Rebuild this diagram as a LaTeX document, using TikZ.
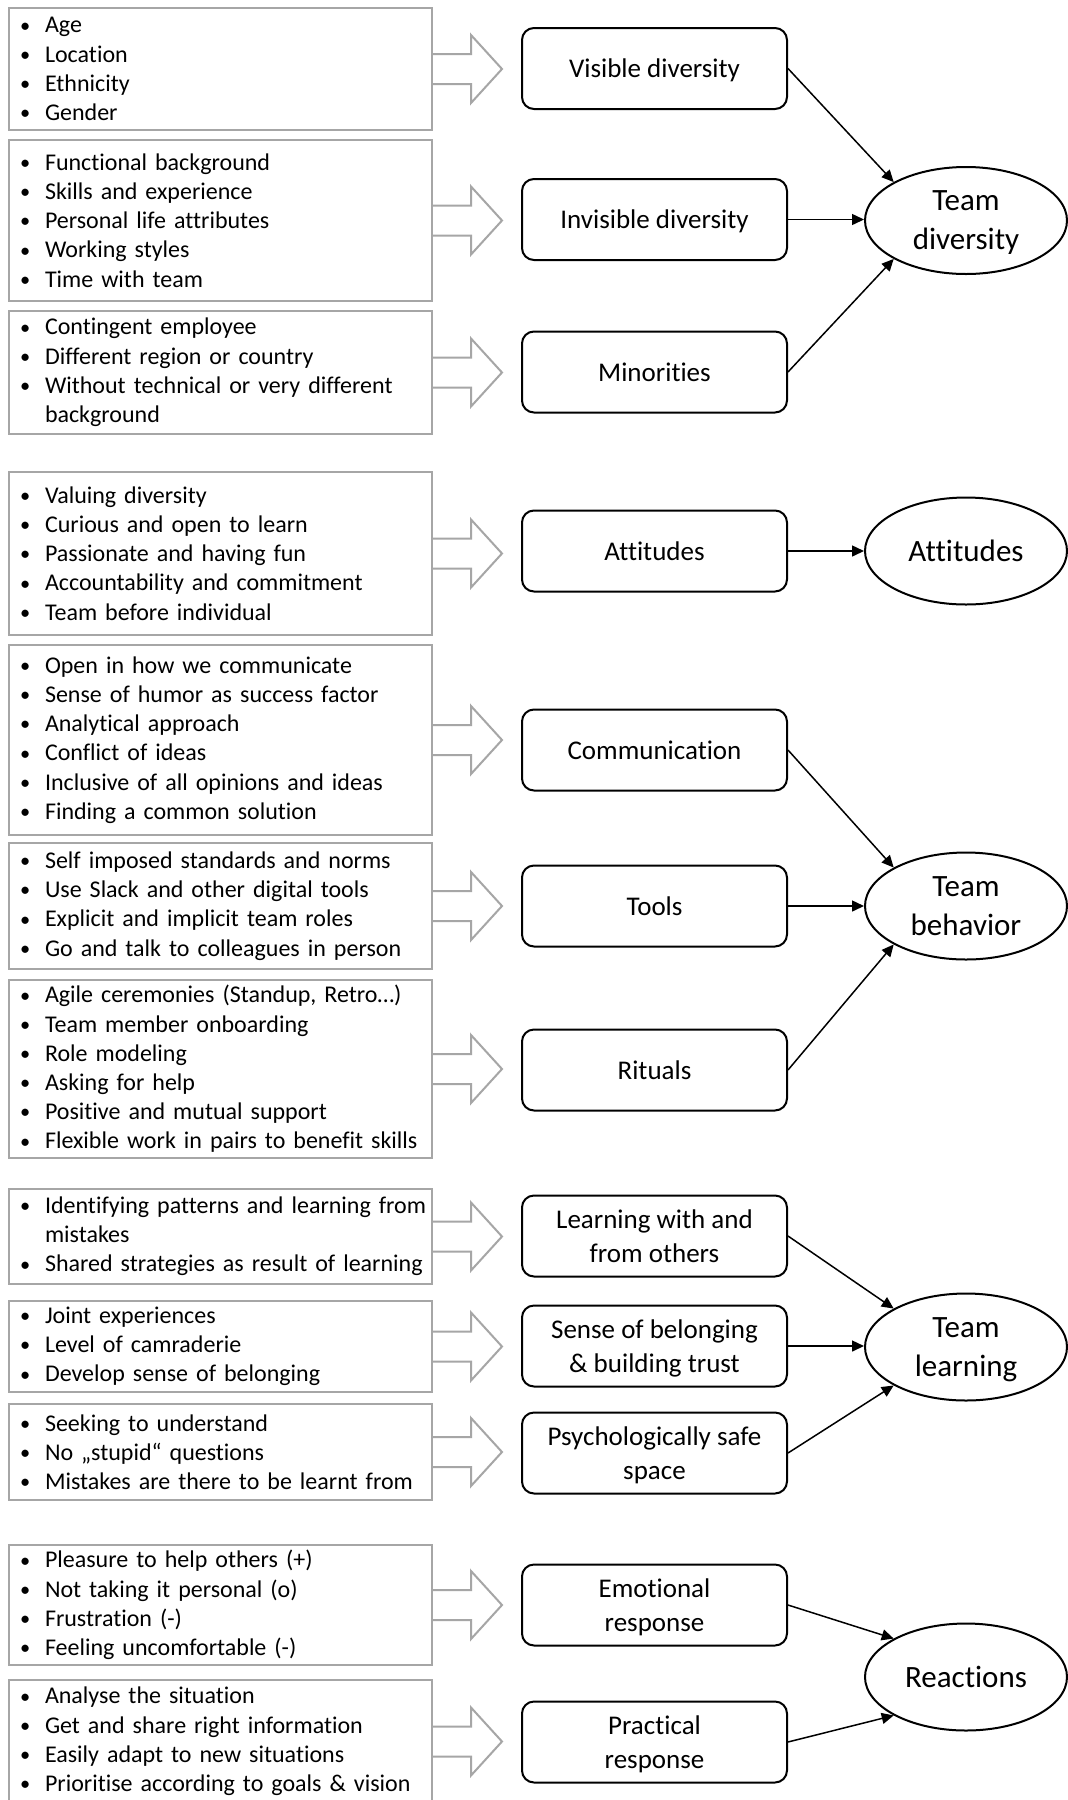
\documentclass[tikz,border=0pt]{standalone}
\usepackage{fontspec}
\usepackage{graphicx}
\setmainfont{Carlito}[Ligatures={NoCommon,NoRare}]
\usetikzlibrary{shapes.geometric,arrows.meta}
\definecolor{framegrey}{RGB}{166,166,166}
\newcommand{\itm}[1]{\mbox{\makebox[15pt][l]{\hspace{2.5pt}\raisebox{0.4pt}{\scalebox{0.85}{\textbullet}}}#1}}
\newcommand{\cnt}{\hspace*{15pt}}

\begin{document}
\begin{tikzpicture}[x=0.5pt,y=-0.5pt,
  listbox/.style={draw=framegrey,line width=1pt,minimum width=211.5pt,text width=205.5pt,inner xsep=3pt,inner ysep=0pt,align=left,font=\fontsize{12pt}{14.6pt}\selectfont},
  factor/.style={draw,line width=1pt,rounded corners=6pt,minimum width=132.5pt,minimum height=40.5pt,text depth=0pt,align=center,font=\fontsize{13.5pt}{17pt}\selectfont},
  construct/.style={draw,ellipse,line width=1pt,minimum width=101pt,minimum height=53.5pt,inner sep=0pt,text depth=0pt,align=center,font=\fontsize{15.5pt}{19.5pt}\selectfont},
  hollow/.style={draw=framegrey,line width=1pt},
  link/.style={line width=0.75pt,-{Triangle[length=6pt,width=5.5pt]}}]
\fill[white] (0,0) rectangle (1067,1800);
\useasboundingbox (0,0) rectangle (1067,1800);
% lists on the left
\node[listbox,minimum height=61pt] (l1) at (220.5,69) {\itm{Age}\\\itm{Location}\\\itm{Ethnicity}\\\itm{Gender}};
\node[listbox,minimum height=80.5pt] (l2) at (220.5,220.5) {\itm{Functional background}\\\itm{Skills and experience}\\\itm{Personal life attributes}\\\itm{Working styles}\\\itm{Time with team}};
\node[listbox,minimum height=61.5pt] (l3) at (220.5,372.5) {\itm{Contingent employee}\\\itm{Different region or country}\\\itm{Without technical or very different}\\\cnt background};
\node[listbox,minimum height=81.5pt] (l4) at (220.5,553.5) {\itm{Valuing diversity}\\\itm{Curious and open to learn}\\\itm{Passionate and having fun}\\\itm{Accountability and commitment}\\\itm{Team before individual}};
\node[listbox,minimum height=95pt] (l5) at (220.5,740) {\itm{Open in how we communicate}\\\itm{Sense of humor as success factor}\\\itm{Analytical approach}\\\itm{Conflict of ideas}\\\itm{Inclusive of all opinions and ideas}\\\itm{Finding a common solution}};
\node[listbox,minimum height=63pt] (l6) at (220.5,906) {\itm{Self imposed standards and norms}\\\itm{Use Slack and other digital tools}\\\itm{Explicit and implicit team roles}\\\itm{Go and talk to colleagues in person}};
\node[listbox,minimum height=89pt] (l7) at (220.5,1069) {\itm{Agile ceremonies (Standup, Retro…)}\\\itm{Team member onboarding}\\\itm{Role modeling}\\\itm{Asking for help}\\\itm{Positive and mutual support}\\\itm{Flexible work in pairs to benefit skills}};
\node[listbox,minimum height=47.5pt] (l8) at (220.5,1236.5) {\itm{Identifying patterns and learning from}\\\cnt mistakes\\\itm{Shared strategies as result of learning}};
\node[listbox,minimum height=45.5pt] (l9) at (220.5,1346.5) {\itm{Joint experiences}\\\itm{Level of camraderie}\\\itm{Develop sense of belonging}};
\node[listbox,minimum height=48pt] (l10) at (220.5,1452) {\itm{Seeking to understand}\\\itm{No „stupid“ questions}\\\itm{Mistakes are there to be learnt from}};
\node[listbox,minimum height=60pt] (l11) at (220.5,1605) {\itm{Pleasure to help others (+)}\\\itm{Not taking it personal (o)}\\\itm{Frustration (-)}\\\itm{Feeling uncomfortable (-)}};
\node[listbox,minimum height=61.5pt] (l12) at (220.5,1741.5) {\itm{Analyse the situation}\\\itm{Get and share right information}\\\itm{Easily adapt to new situations}\\\itm{Prioritise according to goals \& vision}};
% hollow arrows
\foreach \n in {1,...,12}
  \draw[hollow] (l\n.east) ++(0,-15) -- ++(38,0) -- ++(0,-19) -- ++(31,34) -- ++(-31,34) -- ++(0,-19) -- ++(-38,0);
% factors
\node[factor] (visible) at (654.5,68.5) {Visible diversity};
\node[factor] (invisible) at (654.5,219.5) {Invisible diversity};
\node[factor] (minorities) at (654.5,372) {Minorities};
\node[factor] (attbox) at (654.5,551) {Attitudes};
\node[factor] (communication) at (654.5,750) {Communication};
\node[factor] (tools) at (654.5,906) {Tools};
\node[factor] (rituals) at (654.5,1070) {Rituals};
\node[factor] (others) at (654.5,1236) {Learning with and\\from others};
\node[factor] (belonging) at (654.5,1346) {Sense of belonging\\\& building trust};
\node[factor] (safe) at (654.5,1453) {Psychologically safe\\space};
\node[factor] (emotional) at (654.5,1605) {Emotional\\response};
\node[factor] (practical) at (654.5,1742) {Practical\\response};
% constructs
\node[construct] (diversity) at (966,220.5) {Team\\diversity};
\node[construct] (attitudes) at (966,551) {Attitudes};
\node[construct] (behavior) at (966,906) {Team\\behavior};
\node[construct] (learning) at (966,1347) {Team\\learning};
\node[construct] (reactions) at (966,1677) {Reactions};
% links
\draw[link] (visible.east) -- (diversity.152);
\draw[link] (invisible.east) -- (invisible.east -| diversity.west);
\draw[link] (minorities.east) -- (diversity.208);
\draw[link] (attbox.east) -- (attitudes.west);
\draw[link] (communication.east) -- (behavior.152);
\draw[link] (tools.east) -- (behavior.west);
\draw[link] (rituals.east) -- (behavior.208);
\draw[link] (others.east) -- (learning.152);
\draw[link] (belonging.east) -- (belonging.east -| learning.west);
\draw[link] (safe.east) -- (learning.208);
\draw[link] (emotional.east) -- (reactions.152);
\draw[link] (practical.east) -- (reactions.208);
\end{tikzpicture}
\end{document}
